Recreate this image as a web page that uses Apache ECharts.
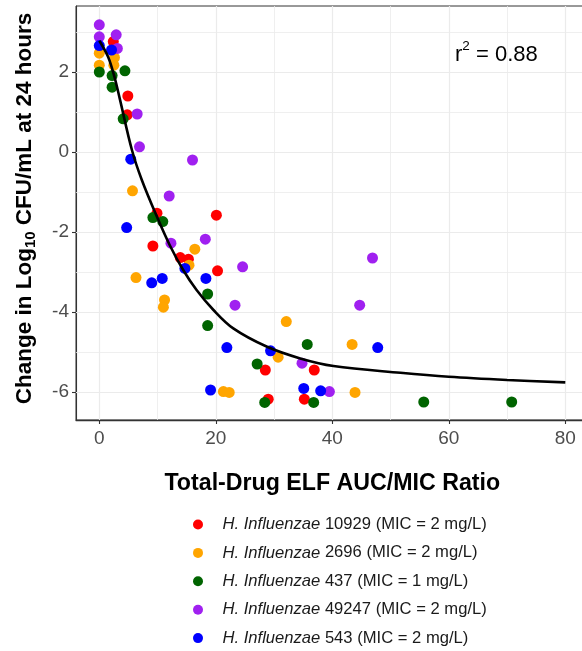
<!DOCTYPE html>
<html>
<head>
<meta charset="utf-8">
<script src="https://cdn.jsdelivr.net/npm/echarts@6/dist/echarts.min.js"></script>
<style>
html,body{margin:0;padding:0;background:#ffffff;}
#chart{width:582px;height:651px;}
</style>
</head>
<body>
<div id="chart"></div>
<script>
// ---- data ----
const strainIds = ['10929', '2696', '437', '49247', '543'];
const strainMic = ['2', '2', '1', '2', '2'];

const s10929_x = [2.4, 4.9, 4.8, 9.9, 20.1, 9.2, 13.9, 15.3, 20.3, 28.5, 36.9, 29.0, 35.2];
const s10929_y = [2.76, 1.40, 0.93, -1.53, -1.58, -2.35, -2.64, -2.68, -2.97, -5.45, -5.45, -6.18, -6.18];

const s2696_x = [0, 2.6, 0, 2.5, 5.7, 16.4, 15.4, 6.3, 11.2, 11.0, 32.1, 43.4, 30.7, 21.3, 22.3, 43.9];
const s2696_y = [2.47, 2.36, 2.17, 2.17, -0.97, -2.43, -2.83, -3.14, -3.70, -3.88, -4.24, -4.81, -5.13, -5.99, -6.01, -6.01];

const s437_x = [0, 4.4, 2.2, 2.2, 4.1, 9.2, 10.9, 18.6, 18.6, 35.7, 27.1, 28.4, 36.8, 55.7, 70.8];
const s437_y = [2.00, 2.03, 1.91, 1.62, 0.83, -1.64, -1.74, -3.55, -4.34, -4.81, -5.30, -6.26, -6.26, -6.25, -6.25];

const s49247_x = [0, 0, 2.9, 3.1, 6.5, 6.9, 16.0, 12.0, 12.3, 18.2, 24.6, 23.3, 46.9, 44.7, 34.8, 39.5];
const s49247_y = [3.18, 2.88, 2.93, 2.59, 0.95, 0.13, -0.20, -1.10, -2.28, -2.18, -2.87, -3.83, -2.65, -3.83, -5.28, -5.99];

const s543_x = [0, 2.1, 5.4, 4.7, 14.7, 9.0, 10.8, 18.3, 21.9, 29.4, 47.8, 19.1, 35.1, 38.0];
const s543_y = [2.66, 2.55, -0.18, -1.89, -2.91, -3.27, -3.16, -3.16, -4.89, -4.97, -4.89, -5.95, -5.91, -5.97];

// fitted curve, points
const curveX = [0, 1.5, 2.6, 3.5, 5.6, 7.3, 9.9, 12.1, 14.4, 16.7, 19.6, 23.0, 28.8, 34.5, 40.2, 51.7, 60, 70, 80];
const curveY = [2.78, 2.38, 1.88, 1.34, 0.05, -0.70, -1.62, -2.33, -2.95, -3.45, -3.95, -4.41, -4.87, -5.16, -5.35, -5.52, -5.62, -5.70, -5.76];

const xTicks = [0, 20, 40, 60, 80];
const xMinorTicks = [10, 30, 50, 70];
const yTicks = [-6, -4, -2, 0, 2];
const yMinorTicks = [-5, -3, -1, 1, 3];
const xLimits = [-4, 84];
const yLimits = [-6.7, 3.65];

const rSquared = '0.88';

// ---- styling ----
const FONT = 'Liberation Sans, Arial, Helvetica, sans-serif';
const seriesColors = ['#ff0000', '#ffa500', '#006400', '#a020f0', '#0000ff'];
const allX = [s10929_x, s2696_x, s437_x, s49247_x, s543_x];
const allY = [s10929_y, s2696_y, s437_y, s49247_y, s543_y];

function zip(xs, ys) { return xs.map((x, i) => [x, ys[i]]); }

const pointSeries = strainIds.map((id, k) => ({
  name: id + ' (MIC = ' + strainMic[k] + ' mg/L)',
  type: 'scatter',
  data: zip(allX[k], allY[k]),
  symbol: 'circle',
  symbolSize: 11,
  itemStyle: { color: seriesColors[k], opacity: 1 },
  z: 4,
  silent: true
}));

const gridSeries = {
  name: '_grid',
  type: 'line',
  data: [],
  z: 1,
  silent: true,
  markLine: {
    silent: true,
    z: 1,
    symbol: ['none', 'none'],
    label: { show: false },
    animation: false,
    emphasis: { disabled: true },
    lineStyle: { type: 'solid', color: '#ebebeb', width: 1.1 },
    data: []
      .concat(xTicks.map(v => ({ xAxis: v, lineStyle: { width: 1.2 } })))
      .concat(xMinorTicks.map(v => ({ xAxis: v, lineStyle: { width: 0.8 } })))
      .concat(yTicks.map(v => ({ yAxis: v, lineStyle: { width: 1.2 } })))
      .concat(yMinorTicks.map(v => ({ yAxis: v, lineStyle: { width: 0.8 } })))
  }
};

const curveSeries = {
  name: '_curve',
  type: 'line',
  data: zip(curveX, curveY),
  showSymbol: false,
  symbol: 'none',
  smooth: 0.35,
  lineStyle: { color: '#000000', width: 2.6 },
  z: 5,
  silent: true
};

const chart = echarts.init(document.getElementById('chart'), null, { renderer: 'canvas' });
chart.setOption({
  animation: false,
  backgroundColor: '#ffffff',
  grid: {
    left: 76, top: 6, width: 512.6, height: 414,
    show: true, borderColor: '#333333', borderWidth: 1, backgroundColor: '#ffffff',
    containLabel: false, outerBoundsMode: 'none'
  },
  xAxis: {
    type: 'value',
    min: xLimits[0], max: xLimits[1],
    name: 'Total-Drug ELF AUC/MIC Ratio',
    nameLocation: 'middle',
    nameGap: 52,
    nameTextStyle: { fontFamily: FONT, fontSize: 23.2, fontWeight: 'bold', color: '#000000' },
    axisLine: { show: true, onZero: false, lineStyle: { color: '#333333', width: 1.3 } },
    axisTick: { show: true, customValues: xTicks, length: 4, lineStyle: { color: '#333333', width: 1.1 } },
    axisLabel: { customValues: xTicks, fontFamily: FONT, fontSize: 19, color: '#4d4d4d', margin: 9 },
    splitLine: { show: false },
    minorSplitLine: { show: false }
  },
  yAxis: {
    type: 'value',
    min: yLimits[0], max: yLimits[1],
    name: 'Change in Log{sub|10} CFU/mL at 24 hours',
    nameLocation: 'middle',
    nameRotate: 90,
    nameGap: 38,
    nameTextStyle: {
      fontFamily: FONT, fontSize: 22.5, fontWeight: 'bold', color: '#000000', lineHeight: 26,
      padding: [0, 0, 0, 9],
      rich: { sub: { fontFamily: FONT, fontSize: 15, fontWeight: 'bold', color: '#000000', lineHeight: 15, verticalAlign: 'bottom' } }
    },
    axisLine: { show: true, onZero: false, lineStyle: { color: '#333333', width: 1.1 } },
    axisTick: { show: true, customValues: yTicks, length: 4, lineStyle: { color: '#333333', width: 1.1 } },
    axisLabel: { customValues: yTicks, fontFamily: FONT, fontSize: 19, color: '#4d4d4d', margin: 7 },
    splitLine: { show: false },
    minorSplitLine: { show: false }
  },
  legend: {
    show: true,
    data: pointSeries.map(s => s.name),
    orient: 'vertical',
    left: 193, top: 514.5,
    height: 160,
    padding: 0,
    icon: 'circle',
    itemWidth: 39, itemHeight: 10,
    itemGap: 8.4,
    selectedMode: false,
    formatter: function (name) { return '{i|H. Influenzae} ' + name; },
    textStyle: {
      fontFamily: FONT, fontSize: 16.6, color: '#1a1a1a', lineHeight: 20,
      rich: { i: { fontFamily: FONT, fontSize: 16.6, fontStyle: 'italic', color: '#1a1a1a', lineHeight: 20 } }
    }
  },
  graphic: [{
    type: 'text',
    left: 455, top: 39,
    silent: true,
    style: {
      text: '{m|r}{s|2}{m| = ' + rSquared + '}',
      rich: {
        m: { fontFamily: FONT, fontSize: 22, fill: '#000000', lineHeight: 27, verticalAlign: 'bottom' },
        s: { fontFamily: FONT, fontSize: 13.5, fill: '#000000', lineHeight: 13, verticalAlign: 'top' }
      }
    },
    z: 10
  }],
  series: [gridSeries].concat(pointSeries).concat([curveSeries])
});
</script>
</body>
</html>
